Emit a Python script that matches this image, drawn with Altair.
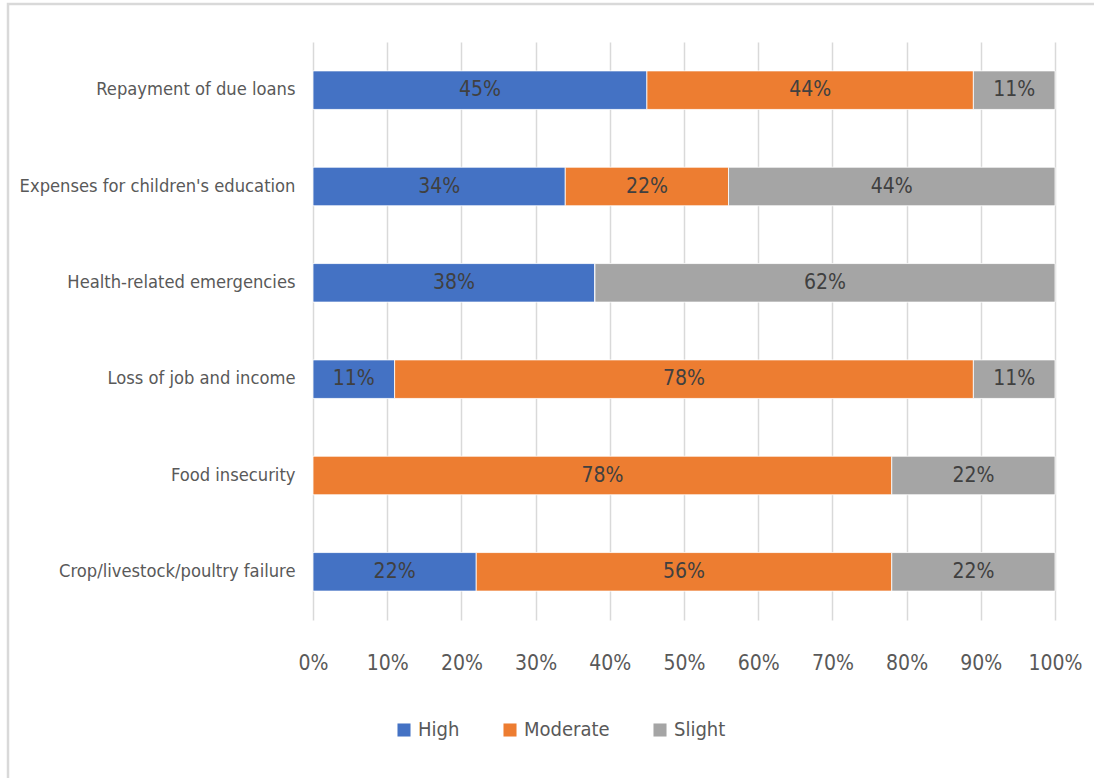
import altair as alt
import pandas as pd

categories = [
    "Repayment of due loans",
    "Expenses for children's education",
    "Health-related emergencies",
    "Loss of job and income",
    "Food insecurity",
    "Crop/livestock/poultry failure",
]
levels = ["High", "Moderate", "Slight"]
high = [45, 34, 38, 11, 0, 22]
moderate = [44, 22, 0, 78, 78, 56]
slight = [11, 44, 62, 11, 22, 22]
colors = ["#4472C4", "#ED7D31", "#A5A5A5"]

rows = []
for i, c in enumerate(categories):
    for j, (lvl, vals) in enumerate(zip(levels, [high, moderate, slight])):
        rows.append({"category": c, "level": lvl, "order": j, "value": vals[i]})
df = pd.DataFrame(rows)

FONT = "DejaVu Sans Condensed, Liberation Sans Narrow, sans-serif"

base = alt.Chart(df)

y_enc = alt.Y(
    "category:N",
    sort=categories,
    title=None,
    scale=alt.Scale(paddingInner=0.6, paddingOuter=0.3),
    axis=alt.Axis(
        domain=False, ticks=False, grid=False, labelPadding=18,
        labelFont=FONT, labelFontSize=18.2, labelColor="#595959", labelLimit=400,
    ),
)

bars = base.mark_bar(stroke="white", strokeWidth=0.8).encode(
    x=alt.X(
        "sum(value):Q",
        stack="zero",
        title=None,
        scale=alt.Scale(domain=[0, 100], nice=False),
        axis=alt.Axis(
            values=list(range(0, 101, 10)),
            labelExpr="datum.value + '%'",
            domain=False, ticks=False, grid=True,
            gridColor="#d9d9d9", gridWidth=1.5,
            labelPadding=32, labelFont=FONT, labelFontSize=21,
            labelColor="#595959", labelFlush=False,
        ),
    ),
    y=y_enc,
    color=alt.Color(
        "level:N",
        sort=levels,
        scale=alt.Scale(domain=levels, range=colors),
        legend=alt.Legend(
            title=None, orient="none", direction="horizontal",
            legendX=81, legendY=678, symbolType="square", symbolSize=170,
            symbolStrokeWidth=0, labelFont=FONT, labelFontSize=20,
            labelColor="#595959", columnPadding=40, labelOffset=4,
        ),
    ),
    order=alt.Order("order:Q"),
)

labels = base.transform_filter("datum.value > 0").mark_text(
    font=FONT, fontSize=21, color="#404040"
).encode(
    x=alt.X("sum(value):Q", stack="zero", bandPosition=0.5),
    y=alt.Y("category:N", sort=categories),
    text=alt.Text("label:N"),
    order=alt.Order("order:Q"),
    detail="level:N",
).transform_calculate(label="datum.value + '%'")

frame = alt.Chart(pd.DataFrame({"a": [0]})).mark_rect(
    fill=None, stroke="#d9d9d9", strokeWidth=2.5
).encode(
    x=alt.value(-305), x2=alt.value(800), y=alt.value(-38), y2=alt.value(760)
)

chart = alt.layer(frame, bars, labels).properties(
    width=742, height=578,
    background="white",
    autosize=alt.AutoSizeParams(type="none"),
    padding={"left": 313, "top": 42, "right": 39, "bottom": 158},
).configure_view(stroke=None)

chart.save("out.html", embed_options={"renderer": "svg", "actions": False})
